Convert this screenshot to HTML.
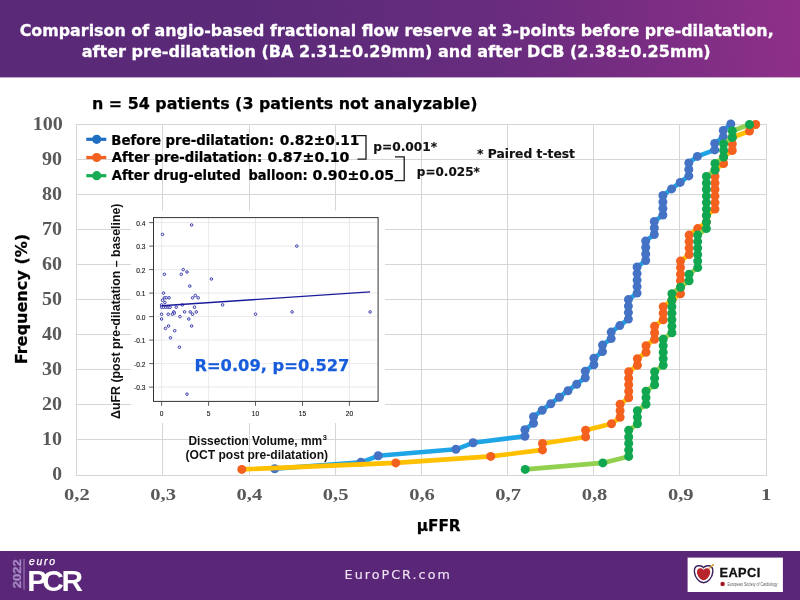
<!DOCTYPE html>
<html lang="en"><head><meta charset="utf-8"><title>Comparison of angio-based fractional flow reserve</title>
<style>
html,body{margin:0;padding:0;background:#fff;}
body{width:800px;height:600px;overflow:hidden;}
svg{display:block;}
text{white-space:pre;}
</style></head><body>
<svg width="800" height="600" viewBox="0 0 800 600">
<defs>
<linearGradient id="hg" gradientUnits="userSpaceOnUse" x1="250" y1="60" x2="800" y2="0">
<stop offset="0" stop-color="#5a2a79"/><stop offset="0.45" stop-color="#682c7e"/><stop offset="0.73" stop-color="#7a2d83"/><stop offset="1" stop-color="#8f3089"/>
</linearGradient>
</defs>
<rect x="0" y="0" width="800" height="600" fill="#ffffff"/>
<rect x="0" y="0" width="800" height="77.4" fill="url(#hg)"/>
<g font-family="'DejaVu Sans','Liberation Sans',sans-serif" font-weight="bold" font-size="16" fill="#ffffff" stroke="#ffffff" stroke-width="0.3">
<text x="19.7" y="35.8" textLength="754" lengthAdjust="spacingAndGlyphs">Comparison of angio-based fractional flow reserve at 3-points before pre-dilatation,</text>
<text x="81.7" y="57" textLength="629" lengthAdjust="spacingAndGlyphs">after pre-dilatation (BA 2.31±0.29mm) and after DCB (2.38±0.25mm)</text>
</g>
<text x="92" y="109.3" font-family="'DejaVu Sans','Liberation Sans',sans-serif" font-weight="bold" font-size="15.8" fill="#000" stroke="#000" stroke-width="0.25" textLength="385.5" lengthAdjust="spacingAndGlyphs">n = 54 patients (3 patients not analyzable)</text>
<g stroke="#d6d6d6" stroke-width="1" fill="none" shape-rendering="crispEdges">
<line x1="76.5" y1="124" x2="76.5" y2="475.5"/><line x1="162.5" y1="124" x2="162.5" y2="475.5"/><line x1="249.5" y1="124" x2="249.5" y2="475.5"/><line x1="335.5" y1="124" x2="335.5" y2="475.5"/><line x1="421.5" y1="124" x2="421.5" y2="475.5"/><line x1="507.5" y1="124" x2="507.5" y2="475.5"/><line x1="593.5" y1="124" x2="593.5" y2="475.5"/><line x1="679.5" y1="124" x2="679.5" y2="475.5"/><line x1="766.5" y1="124" x2="766.5" y2="475.5"/><line x1="76" y1="475.0" x2="767" y2="475.0"/><line x1="76" y1="439.5" x2="767" y2="439.5"/><line x1="76" y1="404.5" x2="767" y2="404.5"/><line x1="76" y1="369.5" x2="767" y2="369.5"/><line x1="76" y1="334.5" x2="767" y2="334.5"/><line x1="76" y1="299.5" x2="767" y2="299.5"/><line x1="76" y1="264.5" x2="767" y2="264.5"/><line x1="76" y1="229.5" x2="767" y2="229.5"/><line x1="76" y1="194.5" x2="767" y2="194.5"/><line x1="76" y1="159.5" x2="767" y2="159.5"/><line x1="76" y1="124.5" x2="767" y2="124.5"/></g>
<g font-family="'Liberation Serif',serif" font-weight="bold" font-size="18" fill="#595959" text-anchor="end">
<text x="62.0" y="480.0" textLength="9.8" lengthAdjust="spacingAndGlyphs">0</text><text x="62.0" y="445.0" textLength="20.0" lengthAdjust="spacingAndGlyphs">10</text><text x="62.0" y="410.0" textLength="20.0" lengthAdjust="spacingAndGlyphs">20</text><text x="62.0" y="375.0" textLength="20.0" lengthAdjust="spacingAndGlyphs">30</text><text x="62.0" y="340.0" textLength="20.0" lengthAdjust="spacingAndGlyphs">40</text><text x="62.0" y="305.0" textLength="20.0" lengthAdjust="spacingAndGlyphs">50</text><text x="62.0" y="270.0" textLength="20.0" lengthAdjust="spacingAndGlyphs">60</text><text x="62.0" y="235.0" textLength="20.0" lengthAdjust="spacingAndGlyphs">70</text><text x="62.0" y="200.0" textLength="20.0" lengthAdjust="spacingAndGlyphs">80</text><text x="62.0" y="165.0" textLength="20.0" lengthAdjust="spacingAndGlyphs">90</text><text x="62.9" y="130.0" textLength="30.2" lengthAdjust="spacingAndGlyphs">100</text></g>
<g font-family="'Liberation Serif',serif" font-weight="bold" font-size="17.6" fill="#595959" text-anchor="middle">
<text x="76.9" y="500.4" textLength="25.7" lengthAdjust="spacingAndGlyphs">0,2</text><text x="163.2" y="500.4" textLength="25.7" lengthAdjust="spacingAndGlyphs">0,3</text><text x="249.4" y="500.4" textLength="25.7" lengthAdjust="spacingAndGlyphs">0,4</text><text x="335.7" y="500.4" textLength="25.7" lengthAdjust="spacingAndGlyphs">0,5</text><text x="422.0" y="500.4" textLength="25.7" lengthAdjust="spacingAndGlyphs">0,6</text><text x="508.2" y="500.4" textLength="25.7" lengthAdjust="spacingAndGlyphs">0,7</text><text x="594.5" y="500.4" textLength="25.7" lengthAdjust="spacingAndGlyphs">0,8</text><text x="680.8" y="500.4" textLength="25.7" lengthAdjust="spacingAndGlyphs">0,9</text><text x="766.2" y="500.4" textLength="10.4" lengthAdjust="spacingAndGlyphs">1</text></g>
<text transform="translate(27.3,364.3) rotate(-90)" font-family="'DejaVu Sans','Liberation Sans',sans-serif" font-weight="bold" font-size="15.4" fill="#000" stroke="#000" stroke-width="0.25" textLength="130.5" lengthAdjust="spacingAndGlyphs">Frequency (%)</text>
<text x="416.7" y="531.4" font-family="'DejaVu Sans','Liberation Sans',sans-serif" font-weight="bold" font-size="15.4" fill="#000" stroke="#000" stroke-width="0.25" textLength="43.9" lengthAdjust="spacingAndGlyphs">μFFR</text>
<path d="M274.7,468.8 L361.0,462.3 L378.2,455.8 L455.9,449.3 L473.1,442.8 L524.9,436.3 L524.9,429.7 L533.5,423.2 L533.5,416.7 L542.2,410.2 L550.8,403.7 L559.4,397.2 L568.0,390.7 L576.7,384.2 L585.3,377.7 L585.3,371.2 L593.9,364.7 L593.9,358.2 L602.5,351.6 L602.5,345.1 L611.2,338.6 L611.2,332.1 L619.8,325.6 L628.4,319.1 L628.4,312.6 L628.4,306.1 L628.4,299.6 L637.1,293.1 L637.1,286.6 L637.1,280.1 L637.1,273.6 L637.1,267.0 L645.7,260.5 L645.7,254.0 L645.7,247.5 L645.7,241.0 L654.3,234.5 L654.3,228.0 L654.3,221.5 L662.9,215.0 L662.9,208.5 L662.9,202.0 L662.9,195.5 L671.6,188.9 L680.2,182.4 L688.8,175.9 L688.8,169.4 L688.8,162.9 L697.4,156.4 L714.7,149.9 L714.7,143.4 L723.3,136.9 L723.3,130.4 L730.8,123.9" fill="none" stroke="#1ea5e6" stroke-width="4.6" stroke-linejoin="round" stroke-linecap="round"/>
<g fill="#4472c4"><circle cx="274.7" cy="468.8" r="4.5"/><circle cx="361.0" cy="462.3" r="4.5"/><circle cx="378.2" cy="455.8" r="4.5"/><circle cx="455.9" cy="449.3" r="4.5"/><circle cx="473.1" cy="442.8" r="4.5"/><circle cx="524.9" cy="436.3" r="4.5"/><circle cx="524.9" cy="429.7" r="4.5"/><circle cx="533.5" cy="423.2" r="4.5"/><circle cx="533.5" cy="416.7" r="4.5"/><circle cx="542.2" cy="410.2" r="4.5"/><circle cx="550.8" cy="403.7" r="4.5"/><circle cx="559.4" cy="397.2" r="4.5"/><circle cx="568.0" cy="390.7" r="4.5"/><circle cx="576.7" cy="384.2" r="4.5"/><circle cx="585.3" cy="377.7" r="4.5"/><circle cx="585.3" cy="371.2" r="4.5"/><circle cx="593.9" cy="364.7" r="4.5"/><circle cx="593.9" cy="358.2" r="4.5"/><circle cx="602.5" cy="351.6" r="4.5"/><circle cx="602.5" cy="345.1" r="4.5"/><circle cx="611.2" cy="338.6" r="4.5"/><circle cx="611.2" cy="332.1" r="4.5"/><circle cx="619.8" cy="325.6" r="4.5"/><circle cx="628.4" cy="319.1" r="4.5"/><circle cx="628.4" cy="312.6" r="4.5"/><circle cx="628.4" cy="306.1" r="4.5"/><circle cx="628.4" cy="299.6" r="4.5"/><circle cx="637.1" cy="293.1" r="4.5"/><circle cx="637.1" cy="286.6" r="4.5"/><circle cx="637.1" cy="280.1" r="4.5"/><circle cx="637.1" cy="273.6" r="4.5"/><circle cx="637.1" cy="267.0" r="4.5"/><circle cx="645.7" cy="260.5" r="4.5"/><circle cx="645.7" cy="254.0" r="4.5"/><circle cx="645.7" cy="247.5" r="4.5"/><circle cx="645.7" cy="241.0" r="4.5"/><circle cx="654.3" cy="234.5" r="4.5"/><circle cx="654.3" cy="228.0" r="4.5"/><circle cx="654.3" cy="221.5" r="4.5"/><circle cx="662.9" cy="215.0" r="4.5"/><circle cx="662.9" cy="208.5" r="4.5"/><circle cx="662.9" cy="202.0" r="4.5"/><circle cx="662.9" cy="195.5" r="4.5"/><circle cx="671.6" cy="188.9" r="4.5"/><circle cx="680.2" cy="182.4" r="4.5"/><circle cx="688.8" cy="175.9" r="4.5"/><circle cx="688.8" cy="169.4" r="4.5"/><circle cx="688.8" cy="162.9" r="4.5"/><circle cx="697.4" cy="156.4" r="4.5"/><circle cx="714.7" cy="149.9" r="4.5"/><circle cx="714.7" cy="143.4" r="4.5"/><circle cx="723.3" cy="136.9" r="4.5"/><circle cx="723.3" cy="130.4" r="4.5"/><circle cx="730.8" cy="123.9" r="4.5"/></g>
<path d="M241.8,469.4 L395.8,462.9 L490.7,456.4 L542.5,449.9 L542.5,443.4 L585.6,436.9 L585.6,430.3 L611.5,423.8 L620.1,417.3 L620.1,410.8 L620.1,404.3 L628.7,397.8 L628.7,391.3 L628.7,384.8 L628.7,378.3 L628.7,371.8 L637.4,365.3 L637.4,358.8 L646.0,352.2 L646.0,345.7 L654.6,339.2 L654.6,332.7 L654.6,326.2 L663.2,319.7 L663.2,313.2 L663.2,306.7 L671.9,300.2 L680.5,293.7 L680.5,287.2 L680.5,280.7 L680.5,274.2 L680.5,267.6 L680.5,261.1 L689.1,254.6 L689.1,248.1 L689.1,241.6 L689.1,235.1 L697.7,228.6 L706.4,222.1 L706.4,215.6 L715.0,209.1 L715.0,202.6 L715.0,196.1 L715.0,189.5 L715.0,183.0 L715.0,176.5 L715.0,170.0 L723.6,163.5 L723.6,157.0 L732.3,150.5 L732.3,144.0 L732.3,137.5 L749.5,131.0 L755.7,124.5" fill="none" stroke="#ffc000" stroke-width="4.6" stroke-linejoin="round" stroke-linecap="round"/>
<g fill="#f4601e"><circle cx="241.8" cy="469.4" r="4.5"/><circle cx="395.8" cy="462.9" r="4.5"/><circle cx="490.7" cy="456.4" r="4.5"/><circle cx="542.5" cy="449.9" r="4.5"/><circle cx="542.5" cy="443.4" r="4.5"/><circle cx="585.6" cy="436.9" r="4.5"/><circle cx="585.6" cy="430.3" r="4.5"/><circle cx="611.5" cy="423.8" r="4.5"/><circle cx="620.1" cy="417.3" r="4.5"/><circle cx="620.1" cy="410.8" r="4.5"/><circle cx="620.1" cy="404.3" r="4.5"/><circle cx="628.7" cy="397.8" r="4.5"/><circle cx="628.7" cy="391.3" r="4.5"/><circle cx="628.7" cy="384.8" r="4.5"/><circle cx="628.7" cy="378.3" r="4.5"/><circle cx="628.7" cy="371.8" r="4.5"/><circle cx="637.4" cy="365.3" r="4.5"/><circle cx="637.4" cy="358.8" r="4.5"/><circle cx="646.0" cy="352.2" r="4.5"/><circle cx="646.0" cy="345.7" r="4.5"/><circle cx="654.6" cy="339.2" r="4.5"/><circle cx="654.6" cy="332.7" r="4.5"/><circle cx="654.6" cy="326.2" r="4.5"/><circle cx="663.2" cy="319.7" r="4.5"/><circle cx="663.2" cy="313.2" r="4.5"/><circle cx="663.2" cy="306.7" r="4.5"/><circle cx="671.9" cy="300.2" r="4.5"/><circle cx="680.5" cy="293.7" r="4.5"/><circle cx="680.5" cy="287.2" r="4.5"/><circle cx="680.5" cy="280.7" r="4.5"/><circle cx="680.5" cy="274.2" r="4.5"/><circle cx="680.5" cy="267.6" r="4.5"/><circle cx="680.5" cy="261.1" r="4.5"/><circle cx="689.1" cy="254.6" r="4.5"/><circle cx="689.1" cy="248.1" r="4.5"/><circle cx="689.1" cy="241.6" r="4.5"/><circle cx="689.1" cy="235.1" r="4.5"/><circle cx="697.7" cy="228.6" r="4.5"/><circle cx="706.4" cy="222.1" r="4.5"/><circle cx="706.4" cy="215.6" r="4.5"/><circle cx="715.0" cy="209.1" r="4.5"/><circle cx="715.0" cy="202.6" r="4.5"/><circle cx="715.0" cy="196.1" r="4.5"/><circle cx="715.0" cy="189.5" r="4.5"/><circle cx="715.0" cy="183.0" r="4.5"/><circle cx="715.0" cy="176.5" r="4.5"/><circle cx="715.0" cy="170.0" r="4.5"/><circle cx="723.6" cy="163.5" r="4.5"/><circle cx="723.6" cy="157.0" r="4.5"/><circle cx="732.3" cy="150.5" r="4.5"/><circle cx="732.3" cy="144.0" r="4.5"/><circle cx="732.3" cy="137.5" r="4.5"/><circle cx="749.5" cy="131.0" r="4.5"/><circle cx="755.7" cy="124.5" r="4.5"/></g>
<path d="M525.2,469.4 L602.8,462.9 L628.7,456.4 L628.7,449.9 L628.7,443.4 L628.7,436.9 L628.7,430.3 L637.4,423.8 L637.4,417.3 L637.4,410.8 L646.0,404.3 L646.0,397.8 L646.0,391.3 L654.6,384.8 L654.6,378.3 L654.6,371.8 L663.2,365.3 L663.2,358.8 L663.2,352.2 L663.2,345.7 L663.2,339.2 L671.9,332.7 L671.9,326.2 L671.9,319.7 L671.9,313.2 L671.9,306.7 L671.9,300.2 L671.9,293.7 L680.5,287.2 L689.1,280.7 L689.1,274.2 L697.7,267.6 L697.7,261.1 L697.7,254.6 L697.7,248.1 L697.7,241.6 L697.7,235.1 L706.4,228.6 L706.4,222.1 L706.4,215.6 L706.4,209.1 L706.4,202.6 L706.4,196.1 L706.4,189.5 L706.4,183.0 L706.4,176.5 L715.0,170.0 L715.0,163.5 L723.6,157.0 L723.6,150.5 L723.6,144.0 L732.3,137.5 L732.3,131.0 L749.5,124.5" fill="none" stroke="#92d050" stroke-width="4.6" stroke-linejoin="round" stroke-linecap="round"/>
<g fill="#10a750"><circle cx="525.2" cy="469.4" r="4.5"/><circle cx="602.8" cy="462.9" r="4.5"/><circle cx="628.7" cy="456.4" r="4.5"/><circle cx="628.7" cy="449.9" r="4.5"/><circle cx="628.7" cy="443.4" r="4.5"/><circle cx="628.7" cy="436.9" r="4.5"/><circle cx="628.7" cy="430.3" r="4.5"/><circle cx="637.4" cy="423.8" r="4.5"/><circle cx="637.4" cy="417.3" r="4.5"/><circle cx="637.4" cy="410.8" r="4.5"/><circle cx="646.0" cy="404.3" r="4.5"/><circle cx="646.0" cy="397.8" r="4.5"/><circle cx="646.0" cy="391.3" r="4.5"/><circle cx="654.6" cy="384.8" r="4.5"/><circle cx="654.6" cy="378.3" r="4.5"/><circle cx="654.6" cy="371.8" r="4.5"/><circle cx="663.2" cy="365.3" r="4.5"/><circle cx="663.2" cy="358.8" r="4.5"/><circle cx="663.2" cy="352.2" r="4.5"/><circle cx="663.2" cy="345.7" r="4.5"/><circle cx="663.2" cy="339.2" r="4.5"/><circle cx="671.9" cy="332.7" r="4.5"/><circle cx="671.9" cy="326.2" r="4.5"/><circle cx="671.9" cy="319.7" r="4.5"/><circle cx="671.9" cy="313.2" r="4.5"/><circle cx="671.9" cy="306.7" r="4.5"/><circle cx="671.9" cy="300.2" r="4.5"/><circle cx="671.9" cy="293.7" r="4.5"/><circle cx="680.5" cy="287.2" r="4.5"/><circle cx="689.1" cy="280.7" r="4.5"/><circle cx="689.1" cy="274.2" r="4.5"/><circle cx="697.7" cy="267.6" r="4.5"/><circle cx="697.7" cy="261.1" r="4.5"/><circle cx="697.7" cy="254.6" r="4.5"/><circle cx="697.7" cy="248.1" r="4.5"/><circle cx="697.7" cy="241.6" r="4.5"/><circle cx="697.7" cy="235.1" r="4.5"/><circle cx="706.4" cy="228.6" r="4.5"/><circle cx="706.4" cy="222.1" r="4.5"/><circle cx="706.4" cy="215.6" r="4.5"/><circle cx="706.4" cy="209.1" r="4.5"/><circle cx="706.4" cy="202.6" r="4.5"/><circle cx="706.4" cy="196.1" r="4.5"/><circle cx="706.4" cy="189.5" r="4.5"/><circle cx="706.4" cy="183.0" r="4.5"/><circle cx="706.4" cy="176.5" r="4.5"/><circle cx="715.0" cy="170.0" r="4.5"/><circle cx="715.0" cy="163.5" r="4.5"/><circle cx="723.6" cy="157.0" r="4.5"/><circle cx="723.6" cy="150.5" r="4.5"/><circle cx="723.6" cy="144.0" r="4.5"/><circle cx="732.3" cy="137.5" r="4.5"/><circle cx="732.3" cy="131.0" r="4.5"/><circle cx="749.5" cy="124.5" r="4.5"/></g>
<g stroke-width="3.2" stroke-linecap="butt"><line x1="86.3" y1="139.3" x2="106.3" y2="139.3" stroke="#1f6fc3"/><circle cx="96.7" cy="139.3" r="4.6" fill="#1f6fc3" stroke="none"/><line x1="86.3" y1="157.5" x2="106.3" y2="157.5" stroke="#f4601e"/><circle cx="96.7" cy="157.5" r="4.6" fill="#f4601e" stroke="none"/><line x1="86.3" y1="175.7" x2="106.3" y2="175.7" stroke="#17ad55"/><circle cx="96.7" cy="175.7" r="4.6" fill="#17ad55" stroke="none"/></g>
<g font-family="'DejaVu Sans','Liberation Sans',sans-serif" font-weight="bold" font-size="13.7" fill="#000" stroke="#000" stroke-width="0.22">
<text y="144.5"><tspan x="111.3" textLength="162.7" lengthAdjust="spacingAndGlyphs">Before pre-dilatation:</tspan> <tspan x="279.8" textLength="79.6" lengthAdjust="spacingAndGlyphs">0.82±0.11</tspan></text>
<text y="162.4"><tspan x="111.8" textLength="150.4" lengthAdjust="spacingAndGlyphs">After pre-dilatation:</tspan> <tspan x="267.6" textLength="81.8" lengthAdjust="spacingAndGlyphs">0.87±0.10</tspan></text>
<text y="180.1"><tspan x="111.8" textLength="129.0" lengthAdjust="spacingAndGlyphs">After drug-eluted</tspan> <tspan x="248.5" textLength="59.3" lengthAdjust="spacingAndGlyphs">balloon:</tspan> <tspan x="312.6" textLength="81.6" lengthAdjust="spacingAndGlyphs">0.90±0.05</tspan></text>
</g>
<g fill="none" stroke="#1a1a1a" stroke-width="1.3" stroke-linejoin="miter">
<path d="M356.5,135.6 H366 V159.2 H357.5"/>
<path d="M395,156.8 H404.2 V180.6 H394.5"/>
</g>
<g font-family="'DejaVu Sans','Liberation Sans',sans-serif" font-weight="bold" font-size="11.8" fill="#111" stroke="#111" stroke-width="0.15">
<text x="373.2" y="150.5" textLength="64" lengthAdjust="spacingAndGlyphs">p=0.001*</text>
<text x="416.8" y="176" textLength="63" lengthAdjust="spacingAndGlyphs">p=0.025*</text>
<text x="477" y="158" textLength="98" lengthAdjust="spacingAndGlyphs">* Paired t-test</text>
</g>
<rect x="131" y="210.5" width="254" height="212.5" fill="#ffffff"/>
<g stroke="#e3e3e8" stroke-width="0.8" fill="none">
<line x1="161.6" y1="217.5" x2="161.6" y2="401.4"/><line x1="208.6" y1="217.5" x2="208.6" y2="401.4"/><line x1="255.5" y1="217.5" x2="255.5" y2="401.4"/><line x1="302.5" y1="217.5" x2="302.5" y2="401.4"/><line x1="349.4" y1="217.5" x2="349.4" y2="401.4"/><line x1="153.6" y1="387.1" x2="377.5" y2="387.1"/><line x1="153.6" y1="363.6" x2="377.5" y2="363.6"/><line x1="153.6" y1="340.1" x2="377.5" y2="340.1"/><line x1="153.6" y1="316.6" x2="377.5" y2="316.6"/><line x1="153.6" y1="293.1" x2="377.5" y2="293.1"/><line x1="153.6" y1="269.6" x2="377.5" y2="269.6"/><line x1="153.6" y1="246.1" x2="377.5" y2="246.1"/><line x1="153.6" y1="222.6" x2="377.5" y2="222.6"/></g>
<rect x="153.5" y="217.6" width="224.6" height="183.8" fill="none" stroke="#333333" stroke-width="1"/>
<g stroke="#4a4a4a" stroke-width="0.9">
<line x1="161.6" y1="401.4" x2="161.6" y2="405.8"/><line x1="208.6" y1="401.4" x2="208.6" y2="405.8"/><line x1="255.5" y1="401.4" x2="255.5" y2="405.8"/><line x1="302.5" y1="401.4" x2="302.5" y2="405.8"/><line x1="349.4" y1="401.4" x2="349.4" y2="405.8"/><line x1="149.2" y1="387.1" x2="153.6" y2="387.1"/><line x1="149.2" y1="363.6" x2="153.6" y2="363.6"/><line x1="149.2" y1="340.1" x2="153.6" y2="340.1"/><line x1="149.2" y1="316.6" x2="153.6" y2="316.6"/><line x1="149.2" y1="293.1" x2="153.6" y2="293.1"/><line x1="149.2" y1="269.6" x2="153.6" y2="269.6"/><line x1="149.2" y1="246.1" x2="153.6" y2="246.1"/><line x1="149.2" y1="222.6" x2="153.6" y2="222.6"/></g>
<g font-family="'Liberation Sans',sans-serif" font-size="6.6" fill="#151515" stroke="#151515" stroke-width="0.12">
<text x="145.4" y="390.1" text-anchor="end">-0.3</text><text x="145.4" y="366.6" text-anchor="end">-0.2</text><text x="145.4" y="343.1" text-anchor="end">-0.1</text><text x="145.4" y="319.6" text-anchor="end">0.0</text><text x="145.4" y="296.1" text-anchor="end">0.1</text><text x="145.4" y="272.6" text-anchor="end">0.2</text><text x="145.4" y="249.1" text-anchor="end">0.3</text><text x="145.4" y="225.6" text-anchor="end">0.4</text><text x="161.6" y="416.4" text-anchor="middle">0</text><text x="208.6" y="416.4" text-anchor="middle">5</text><text x="255.5" y="416.4" text-anchor="middle">10</text><text x="302.5" y="416.4" text-anchor="middle">15</text><text x="349.4" y="416.4" text-anchor="middle">20</text></g>
<g fill="#ececff" stroke="#1e1e9c" stroke-width="0.8"><circle cx="191.6" cy="225.0" r="1.3"/><circle cx="162.5" cy="234.4" r="1.3"/><circle cx="296.8" cy="246.1" r="1.3"/><circle cx="183.2" cy="269.6" r="1.3"/><circle cx="187.0" cy="272.0" r="1.3"/><circle cx="181.3" cy="274.3" r="1.3"/><circle cx="164.4" cy="274.3" r="1.3"/><circle cx="211.4" cy="279.0" r="1.3"/><circle cx="189.8" cy="286.1" r="1.3"/><circle cx="163.5" cy="293.1" r="1.3"/><circle cx="195.4" cy="295.5" r="1.3"/><circle cx="192.6" cy="297.8" r="1.3"/><circle cx="198.2" cy="297.8" r="1.3"/><circle cx="164.4" cy="297.8" r="1.3"/><circle cx="166.3" cy="297.8" r="1.3"/><circle cx="169.1" cy="297.8" r="1.3"/><circle cx="162.5" cy="300.2" r="1.3"/><circle cx="164.9" cy="302.5" r="1.3"/><circle cx="161.6" cy="304.9" r="1.3"/><circle cx="182.3" cy="304.9" r="1.3"/><circle cx="222.6" cy="304.9" r="1.3"/><circle cx="161.6" cy="307.2" r="1.3"/><circle cx="163.5" cy="307.2" r="1.3"/><circle cx="165.8" cy="307.2" r="1.3"/><circle cx="168.2" cy="307.2" r="1.3"/><circle cx="170.1" cy="307.2" r="1.3"/><circle cx="176.2" cy="307.2" r="1.3"/><circle cx="194.5" cy="307.2" r="1.3"/><circle cx="184.6" cy="311.9" r="1.3"/><circle cx="190.2" cy="311.9" r="1.3"/><circle cx="196.3" cy="311.9" r="1.3"/><circle cx="173.8" cy="311.9" r="1.3"/><circle cx="174.3" cy="313.1" r="1.3"/><circle cx="292.1" cy="311.9" r="1.3"/><circle cx="370.1" cy="311.9" r="1.3"/><circle cx="161.6" cy="314.2" r="1.3"/><circle cx="168.2" cy="314.2" r="1.3"/><circle cx="172.4" cy="314.2" r="1.3"/><circle cx="192.6" cy="314.2" r="1.3"/><circle cx="255.5" cy="314.2" r="1.3"/><circle cx="179.9" cy="316.6" r="1.3"/><circle cx="161.6" cy="319.0" r="1.3"/><circle cx="188.8" cy="319.0" r="1.3"/><circle cx="168.6" cy="326.0" r="1.3"/><circle cx="191.6" cy="326.0" r="1.3"/><circle cx="165.4" cy="328.4" r="1.3"/><circle cx="174.7" cy="330.7" r="1.3"/><circle cx="170.5" cy="337.8" r="1.3"/><circle cx="179.4" cy="347.2" r="1.3"/><circle cx="187.0" cy="394.2" r="1.3"/></g>
<line x1="161.6" y1="305.8" x2="370.1" y2="291.9" stroke="#1a1a9c" stroke-width="1.4"/>
<text x="194.4" y="371" font-family="'DejaVu Sans','Liberation Sans',sans-serif" font-weight="bold" font-size="15.8" fill="#175cdb" stroke="#175cdb" stroke-width="0.25" textLength="155" lengthAdjust="spacingAndGlyphs">R=0.09, p=0.527</text>
<text transform="translate(119.6,418.9) rotate(-90)" font-family="'Liberation Sans',sans-serif" font-weight="bold" font-size="12.2" fill="#111" textLength="215.4" lengthAdjust="spacingAndGlyphs">ΔuFR (post pre-dilatation – baseline)</text>
<g font-family="'Liberation Sans',sans-serif" font-weight="bold" font-size="12.2" fill="#111">
<text x="188.5" y="445"><tspan textLength="133.6" lengthAdjust="spacingAndGlyphs">Dissection Volume, mm</tspan><tspan font-size="7.4" dy="-4.6" dx="0.6">3</tspan></text>
<text x="185.5" y="458.6" textLength="142.6" lengthAdjust="spacingAndGlyphs">(OCT post pre-dilatation)</text>
</g>
<rect x="0" y="551" width="800" height="49" fill="#5a2778"/>
<text x="344.6" y="579" font-family="'DejaVu Sans','Liberation Sans',sans-serif" font-size="12.7" fill="#efe3f4" stroke="#efe3f4" stroke-width="0.15" textLength="105.2" lengthAdjust="spacing">EuroPCR.com</text>
<text transform="translate(20.6,588.3) rotate(-90)" font-family="'Liberation Sans',sans-serif" font-weight="bold" font-size="11.6" fill="#a587c2" stroke="#a587c2" stroke-width="0.35" textLength="29" lengthAdjust="spacingAndGlyphs">2022</text>
<line x1="24" y1="558.8" x2="24" y2="589.7" stroke="#b79fce" stroke-width="0.8"/>
<text x="28.9" y="565" font-family="'Liberation Sans',sans-serif" font-style="italic" font-size="10.4" fill="#fff" stroke="#fff" stroke-width="0.25" textLength="26.2" lengthAdjust="spacing">euro</text>
<text x="27.2 42.2 61.6" y="590.6" font-family="'Liberation Sans',sans-serif" font-weight="bold" font-size="29.8" fill="#fff">PCR</text>
<rect x="687.6" y="557.6" width="95.3" height="34.4" fill="#fff"/>
<g transform="translate(703.6,574.1)">
<path d="M0,-6.5 C1.3,-8.2 3.6,-8.6 5.5,-8.3 C8.3,-7.8 9.5,-5.2 9.2,-2.2 C8.8,3.4 4.4,8.6 0,8.6 C-4.4,8.6 -8.8,3.4 -9.2,-2.2 C-9.5,-5.2 -8.3,-7.8 -5.5,-8.3 C-3.6,-8.6 -1.3,-8.2 0,-6.5 Z" fill="#fff" stroke="#3b1f5c" stroke-width="1.4"/>
<path d="M0,-4.1 C0.9,-5.6 2.4,-6.1 3.8,-5.9 C5.8,-5.6 6.8,-3.6 6.6,-1.5 C6.3,2.4 3,5.9 0,6.1 C-3,5.9 -6.3,2.4 -6.6,-1.5 C-6.8,-3.6 -5.8,-5.6 -3.8,-5.9 C-2.4,-6.1 -0.9,-5.6 0,-4.1 Z" fill="#b8242b"/>
<line x1="5.6" y1="-5.6" x2="9.4" y2="-9.2" stroke="#d9a02a" stroke-width="1.2" stroke-linecap="round"/>
<circle cx="9.5" cy="-9.3" r="0.9" fill="#d9962a"/>
</g>
<text x="719.6" y="577.3" font-family="'Liberation Sans',sans-serif" font-weight="bold" font-size="12.8" fill="#111" stroke="#111" stroke-width="0.3" textLength="40.6" lengthAdjust="spacing">EAPCI</text>
<circle cx="722.6" cy="584" r="2.3" fill="#b3222b"/><circle cx="722.6" cy="584" r="0.9" fill="#6e1015"/>
<text x="727.5" y="585.6" font-family="'Liberation Sans',sans-serif" font-size="4.6" fill="#5c5c5c" textLength="50" lengthAdjust="spacingAndGlyphs">European Society of Cardiology</text>
</svg>
</body></html>
